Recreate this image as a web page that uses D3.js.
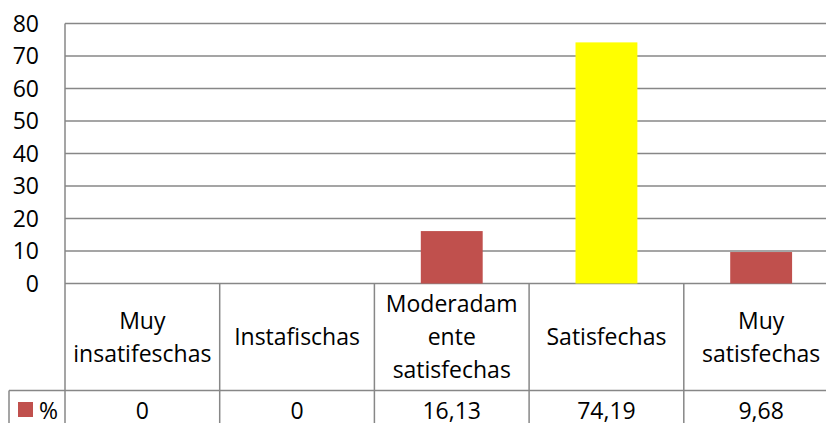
<!DOCTYPE html>
<html>
<head>
<meta charset="utf-8">
<script src="https://cdn.jsdelivr.net/npm/d3@7"></script>
<style>
  html, body { margin: 0; padding: 0; background: #fff; }
  svg text { font-family: "Open Sans", "Noto Sans", sans-serif; font-size: 23px; fill: #000; }
</style>
</head>
<body>
<div id="chart"></div>
<script>
// datos
var categories = ["Muy insatifeschas", "Instafischas", "Moderadamente satisfechas", "Satisfechas", "Muy satisfechas"];
var values = [0, 0, 16.13, 74.19, 9.68];
var seriesName = "%";
var yTicks = [0, 10, 20, 30, 40, 50, 60, 70, 80];

var w = 826, h = 423;
var plotLeft = 65, plotRight = 838.5;   // la ultima columna sale del recorte
var plotTop = 23.5, base = 283.5;
var headBottom = 390.5, rowBottom = 431.5;
var keyLeft = 9;
var lineColor = "#878787";
var barColor = "#C0504D", hiColor = "#FFFF00", hiCat = "Satisfechas";

var es = d3.formatLocale({decimal: ",", thousands: ".", grouping: [3], currency: ["", " €"]});
var fmt = es.format(".4~r");

var svg = d3.select("#chart").append("svg")
    .attr("width", w)
    .attr("height", h);

var x = d3.scaleBand().domain(categories).range([plotLeft, plotRight]).padding(0);
var y = d3.scaleLinear().domain([0, 80]).range([base, plotTop]);

//lineas de cuadricula
svg.append("g").selectAll("line")
    .data(yTicks)
    .enter().append("line")
    .attr("x1", plotLeft).attr("x2", plotRight)
    .attr("y1", d => y(d)).attr("y2", d => y(d))
    .attr("stroke", lineColor).attr("stroke-width", 1.5);

//etiquetas eje y
svg.append("g").selectAll("text")
    .data(yTicks)
    .enter().append("text")
    .attr("x", 39).attr("y", d => y(d))
    .attr("dy", "0.35em")
    .attr("text-anchor", "end")
    .text(d => d);

//barras
var bw = x.bandwidth() * 0.4;
svg.append("g").selectAll("rect")
    .data(values)
    .enter().append("rect")
    .attr("x", (d, i) => x(categories[i]) + (x.bandwidth() - bw) / 2)
    .attr("y", d => y(d))
    .attr("width", bw)
    .attr("height", d => base - y(d))
    .attr("fill", (d, i) => categories[i] == hiCat ? hiColor : barColor);

//tabla de datos
var grid = svg.append("g").attr("stroke", lineColor).attr("stroke-width", 1.5);
grid.append("line").attr("x1", plotLeft).attr("x2", plotLeft).attr("y1", plotTop).attr("y2", h);
grid.append("line").attr("x1", keyLeft).attr("x2", plotRight).attr("y1", headBottom).attr("y2", headBottom);
grid.append("line").attr("x1", keyLeft).attr("x2", keyLeft).attr("y1", headBottom).attr("y2", h);
grid.append("line").attr("x1", keyLeft).attr("x2", plotRight).attr("y1", rowBottom).attr("y2", rowBottom);
grid.selectAll(".sep")
    .data(categories)
    .enter().append("line")
    .attr("class", "sep")
    .attr("x1", d => x(d) + x.bandwidth()).attr("x2", d => x(d) + x.bandwidth())
    .attr("y1", base).attr("y2", h);

// partir texto como Excel (corta palabras largas)
var probe = svg.append("text");
function tw(s) { probe.text(s); return probe.node().getComputedTextLength(); }
function wrap(label, maxW) {
    var lines = [], cur = "";
    label.split(" ").forEach(function(word) {
        var t = cur ? cur + " " + word : word;
        if (tw(t) <= maxW) { cur = t; return; }
        if (cur) { lines.push(cur); cur = ""; }
        while (tw(word) > maxW) {
            var k = word.length;
            while (k > 1 && tw(word.slice(0, k)) > maxW) k--;
            lines.push(word.slice(0, k));
            word = word.slice(k);
        }
        cur = word;
    });
    if (cur) lines.push(cur);
    return lines;
}

var lh = 33;
var headMid = (base + headBottom) / 2;
categories.forEach(function(c) {
    var lines = wrap(c, x.bandwidth() - 14);
    var t = svg.append("text")
        .attr("text-anchor", "middle")
        .attr("x", x(c) + x.bandwidth() / 2);
    lines.forEach(function(l, i) {
        t.append("tspan")
            .attr("x", x(c) + x.bandwidth() / 2)
            .attr("y", headMid + (i - (lines.length - 1) / 2) * lh)
            .attr("dy", "0.35em")
            .text(l);
    });
});
probe.remove();

var rowMid = 410.5;
svg.append("g").selectAll("text")
    .data(values)
    .enter().append("text")
    .attr("x", (d, i) => x(categories[i]) + x.bandwidth() / 2)
    .attr("y", rowMid)
    .attr("dy", "0.35em")
    .attr("text-anchor", "middle")
    .text(d => fmt(d));

//leyenda
svg.append("rect")
    .attr("x", 18).attr("y", 402)
    .attr("width", 15).attr("height", 15)
    .attr("fill", barColor);
svg.append("text")
    .attr("x", 39).attr("y", rowMid)
    .attr("dy", "0.35em")
    .text(seriesName);
</script>
</body>
</html>
